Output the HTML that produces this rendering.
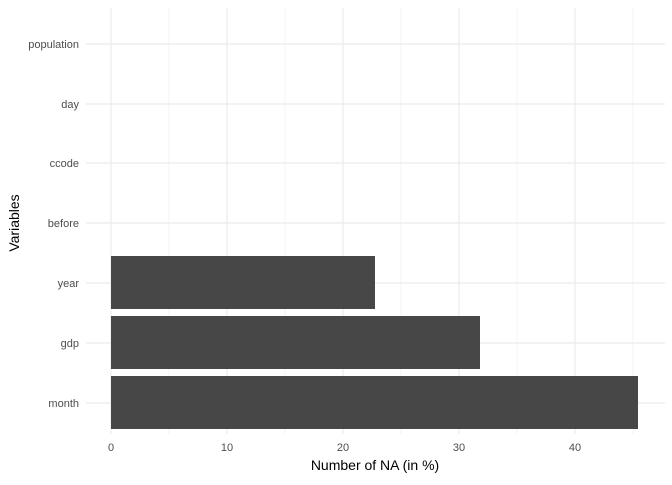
<!DOCTYPE html>
<html><head><meta charset="utf-8"><style>
html,body{margin:0;padding:0;background:#fff;}
svg text{font-family:"Liberation Sans",Arial,sans-serif;}
</style></head><body>
<svg width="672" height="480" xmlns="http://www.w3.org/2000/svg">
<rect width="672" height="480" fill="#fff"/>
<g stroke="#ebebeb" stroke-width="0.6">
<line x1="169" y1="8" x2="169" y2="434"/>
<line x1="285" y1="8" x2="285" y2="434"/>
<line x1="401" y1="8" x2="401" y2="434"/>
<line x1="517" y1="8" x2="517" y2="434"/>
<line x1="633" y1="8" x2="633" y2="434"/>
</g>
<g stroke="#ebebeb" stroke-width="1.2">
<line x1="111" y1="8" x2="111" y2="434"/>
<line x1="227" y1="8" x2="227" y2="434"/>
<line x1="343" y1="8" x2="343" y2="434"/>
<line x1="459" y1="8" x2="459" y2="434"/>
<line x1="575" y1="8" x2="575" y2="434"/>
<line x1="86" y1="44" x2="665" y2="44"/>
<line x1="86" y1="104" x2="665" y2="104"/>
<line x1="86" y1="163" x2="665" y2="163"/>
<line x1="86" y1="223" x2="665" y2="223"/>
<line x1="86" y1="283" x2="665" y2="283"/>
<line x1="86" y1="343" x2="665" y2="343"/>
<line x1="86" y1="403" x2="665" y2="403"/>
</g>
<g fill="#474747">
<rect x="111" y="256" width="264" height="53"/>
<rect x="111" y="316" width="369" height="53"/>
<rect x="111" y="376" width="527" height="53"/>
</g>
<g font-size="11" fill="#4d4d4d" text-anchor="end">
<text x="79" y="48">population</text>
<text x="79" y="108">day</text>
<text x="79" y="167">ccode</text>
<text x="79" y="227">before</text>
<text x="79" y="287">year</text>
<text x="79" y="347">gdp</text>
<text x="79" y="407">month</text>
</g>
<g font-size="11" fill="#4d4d4d" text-anchor="middle">
<text x="111" y="451">0</text>
<text x="227" y="451">10</text>
<text x="343" y="451">20</text>
<text x="459" y="451">30</text>
<text x="575" y="451">40</text>
</g>
<text x="375" y="470" font-size="14" text-anchor="middle" fill="#000">Number of NA (in %)</text>
<text transform="translate(19,223) rotate(-90)" font-size="14" text-anchor="middle" fill="#000">Variables</text>
</svg>
</body></html>
